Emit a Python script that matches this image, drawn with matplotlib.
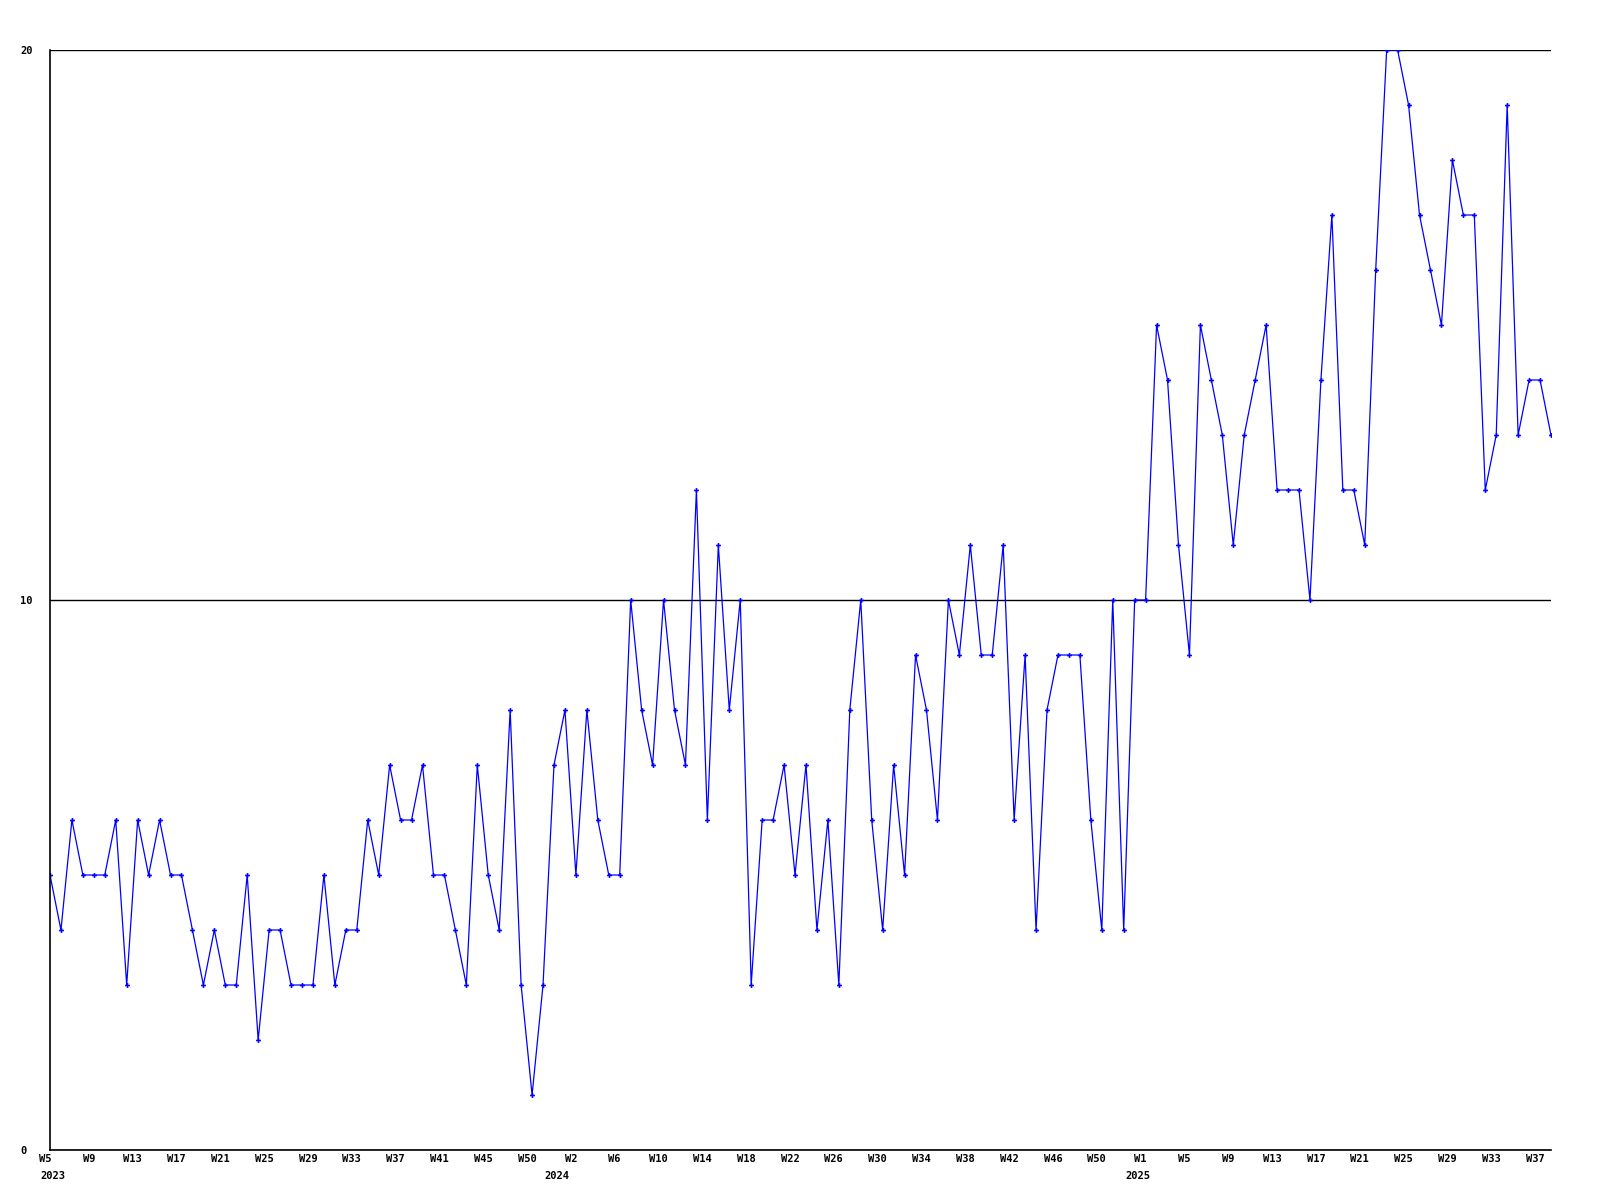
import numpy as np
import matplotlib
matplotlib.use("Agg")
import matplotlib.pyplot as plt
import matplotlib.transforms as mtransforms

# -----------------------------
# Data (weekly counts)
# -----------------------------

weeks_2023 = [5, 4, 6, 5, 5, 5, 6, 3, 6, 5, 6, 5, 5, 4, 3, 4, 3, 3, 5, 2,
              4, 4, 3, 3, 3, 5, 3, 4, 4, 6, 5, 7, 6, 6, 7, 5, 5, 4, 3, 7,
              5, 4, 8, 3, 1, 3, 7, 8]

weeks_2024 = [5, 8, 6, 5, 5, 10, 8, 7, 10, 8, 7, 12, 6, 11, 8, 10, 3, 6, 6, 7,
              5, 7, 4, 6, 3, 8, 10, 6, 4, 7, 5, 9, 8, 6, 10, 9, 11, 9, 9, 11,
              6, 9, 4, 8, 9, 9, 9, 6, 4, 10, 4, 10]

weeks_2025 = [10, 15, 14, 11, 9, 15, 14, 13, 11, 13, 14, 15, 12, 12, 12, 10,
              14, 17, 12, 12, 11, 16, 20, 20, 19, 17, 16, 15, 18, 17, 17, 12,
              13, 19, 13, 14, 14, 13]

week_labels = ["W5", "W9", "W13", "W17", "W21", "W25", "W29", "W33", "W37",
               "W41", "W45", "W50",
               "W2", "W6", "W10", "W14", "W18", "W22", "W26", "W30", "W34",
               "W38", "W42", "W46", "W50",
               "W1", "W5", "W9", "W13", "W17", "W21", "W25", "W29", "W33",
               "W37"]

years = ["2023", "2024", "2025"]

y_ticks = [0, 10, 20]

# -----------------------------
# Plot
# -----------------------------

FONT = dict(family="DejaVu Sans Mono", weight="bold", size=7.5)

values = weeks_2023 + weeks_2024 + weeks_2025
x = np.arange(len(values))

fig = plt.figure(figsize=(16, 12), dpi=100)
ax = fig.add_axes([50 / 1600, 1 - 1150 / 1200, 1501 / 1600, 1100 / 1200])

ax.plot(
    x,
    values,
    color="#0000ff",
    linewidth=0.9,
    marker="P",
    markersize=3.5,
    markeredgewidth=0
)

ax.set_xlim(0, len(values) - 1)
ax.set_ylim(0, 20)

# y axis: gridlines at 10 and 20, labels flush left
ax.set_yticks(y_ticks)
ax.set_yticklabels([str(v) for v in y_ticks], fontdict=FONT)
ax.yaxis.grid(True, color="black", linewidth=1)
ax.tick_params(axis="y", length=0, pad=30 * 0.72)
for label in ax.get_yticklabels():
    label.set_horizontalalignment("left")

# x axis: week labels every 4 points
ax.set_xticks(x[::4])
ax.set_xticklabels(week_labels, fontdict=FONT)
ax.tick_params(axis="x", length=0, pad=3)
shift = mtransforms.ScaledTranslation(-5 / 100, 0, fig.dpi_scale_trans)
for label in ax.get_xticklabels():
    label.set_transform(label.get_transform() + shift)

# year labels below the first week of each year
year_x = [0.3, 46.25, 99.3]
trans = mtransforms.blended_transform_factory(ax.transData, fig.transFigure)
for xpos, year in zip(year_x, years):
    ax.text(xpos, 1 - 1176 / 1200, year, transform=trans,
            ha="center", va="center", **FONT)

for side in ["top", "right"]:
    ax.spines[side].set_visible(False)
for side in ["left", "bottom"]:
    ax.spines[side].set_color("black")
    ax.spines[side].set_linewidth(1.2)

ax.set_axisbelow(True)

fig.savefig("out.png", dpi=100)
plt.close(fig)
